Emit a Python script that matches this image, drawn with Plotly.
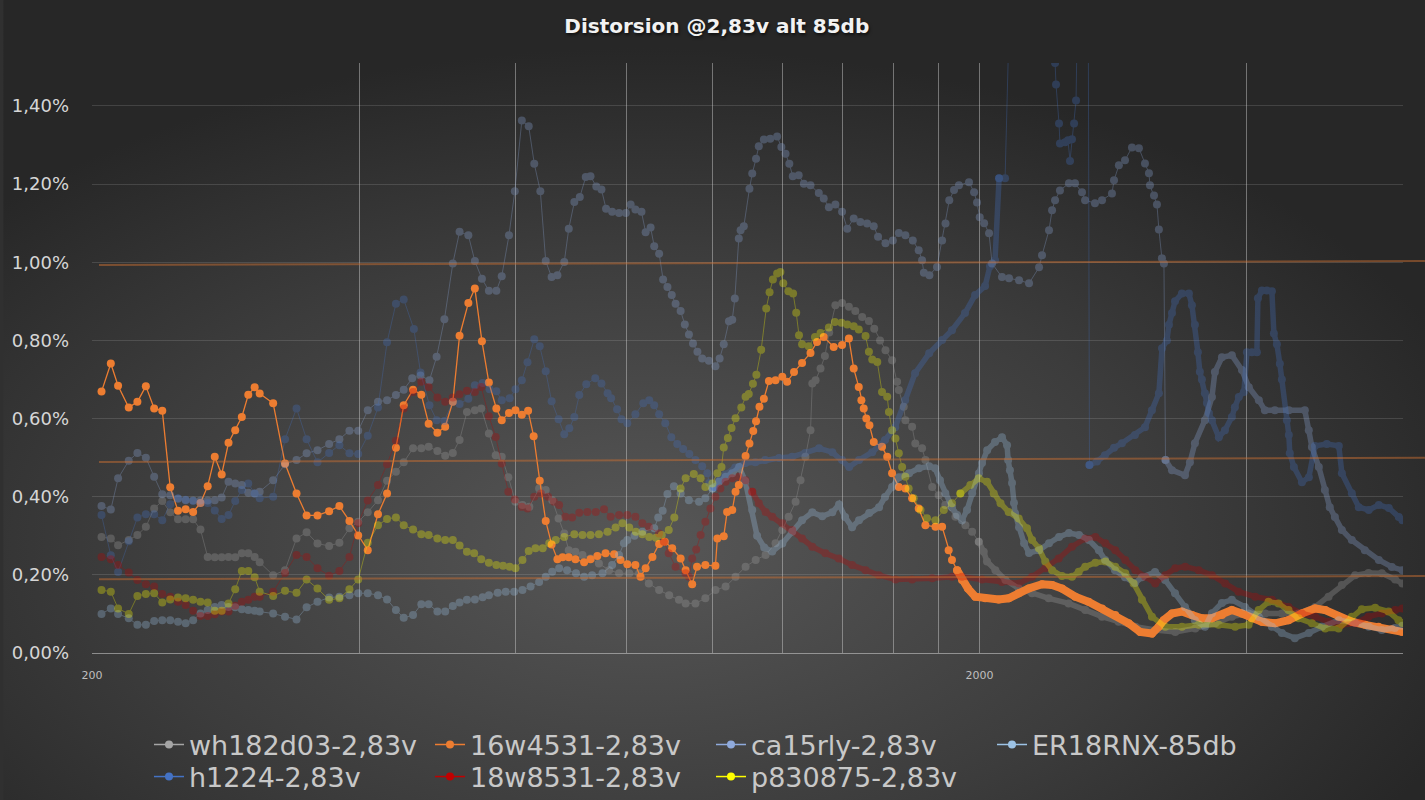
import base64
import math
import plotly.graph_objects as go

# ---------------- data (frequency in Hz, distortion in %) ----------------
wh182_freq = [205, 210, 214, 220, 225, 230, 235, 240, 245, 250,
              255, 260, 265, 270, 275, 280, 285, 290, 295, 300,
              305, 309, 320, 330, 340, 349, 359, 370, 380, 390,
              399, 409, 420, 430, 440, 449, 460, 470, 479, 490,
              500, 510, 519, 529, 540, 549, 560, 570, 579, 589,
              600, 611, 622, 638, 649, 660, 671, 681, 689, 701,
              714, 729, 745, 765, 785, 806, 827, 848, 871, 894,
              917, 933, 957, 982, 1008, 1035, 1062, 1090, 1119, 1148,
              1178, 1199, 1219, 1241, 1257, 1273, 1290, 1296, 1307, 1324,
              1339, 1354, 1376, 1400, 1425, 1449, 1475, 1501, 1522, 1545,
              1567, 1594, 1615, 1622, 1643, 1650, 1679, 1693, 1723, 1738,
              1769, 1799, 1830, 1879, 1928, 1962, 1996, 2022, 2039, 2084,
              2139, 2214, 2292, 2393, 2520, 2631, 2748, 2869, 2997, 3155,
              3323, 3500, 3686, 3849, 4019, 4197, 4382, 4576, 4777, 4946,
              5120, 5299, 5486, 5679, 5879, 5990]
wh182_dist = [0.297, 0.293, 0.276, 0.289, 0.302, 0.323, 0.370, 0.389, 0.360, 0.342,
              0.342, 0.342, 0.316, 0.246, 0.245, 0.245, 0.246, 0.245, 0.255, 0.255,
              0.246, 0.232, 0.199, 0.212, 0.293, 0.309, 0.280, 0.274, 0.282, 0.319,
              0.336, 0.360, 0.391, 0.441, 0.464, 0.488, 0.524, 0.524, 0.528, 0.517,
              0.505, 0.512, 0.545, 0.617, 0.621, 0.626, 0.562, 0.506, 0.502, 0.450,
              0.387, 0.379, 0.374, 0.421, 0.417, 0.391, 0.344, 0.306, 0.263, 0.259,
              0.251, 0.242, 0.229, 0.212, 0.204, 0.204, 0.204, 0.178, 0.161, 0.148,
              0.136, 0.127, 0.127, 0.140, 0.161, 0.170, 0.195, 0.221, 0.238, 0.251,
              0.281, 0.315, 0.349, 0.387, 0.442, 0.502, 0.570, 0.690, 0.698, 0.728,
              0.760, 0.820, 0.890, 0.896, 0.886, 0.875, 0.860, 0.850, 0.830, 0.800,
              0.775, 0.749, 0.694, 0.673, 0.630, 0.596, 0.579, 0.536, 0.524, 0.494,
              0.425, 0.404, 0.379, 0.349, 0.327, 0.310, 0.285, 0.259, 0.234, 0.212,
              0.187, 0.165, 0.153, 0.140, 0.127, 0.110, 0.093, 0.080, 0.067, 0.059,
              0.054, 0.063, 0.076, 0.093, 0.101, 0.101, 0.101, 0.101, 0.118, 0.144,
              0.174, 0.199, 0.205, 0.204, 0.188, 0.178]

w4531_freq = [205, 210, 214, 220, 225, 230, 235, 240, 245, 250,
              255, 260, 265, 270, 275, 280, 285, 290, 295, 300,
              305, 309, 320, 330, 340, 349, 359, 370, 380, 390,
              399, 409, 420, 430, 440, 449, 460, 470, 479, 490,
              500, 510, 519, 531, 540, 550, 560, 571, 579, 590,
              600, 610, 620, 629, 639, 649, 659, 669, 678, 689,
              701, 717, 729, 742, 758, 775, 788, 802, 819, 830,
              841, 856, 871, 884, 901, 921, 933, 949, 961, 982,
              1008, 1013, 1030, 1039, 1053, 1062, 1071, 1090, 1101, 1112,
              1120, 1130, 1143, 1158, 1178, 1199, 1214, 1236, 1262, 1290,
              1312, 1335, 1370, 1400, 1425, 1443, 1462, 1472, 1481, 1491,
              1503, 1520, 1553, 1574, 1594, 1622, 1650, 1679, 1708, 1738,
              1784, 1815, 1846, 1862, 1887, 1911, 1941, 1978, 2030, 2102,
              2157, 2214, 2272, 2352, 2414, 2477, 2564, 2654, 2748, 2844,
              2945, 3034, 3128, 3183, 3225, 3295, 3381, 3470, 3561, 3655,
              3751, 3849, 3951, 4054, 4161, 4307, 4458, 4616, 4777, 4903,
              5076, 5254, 5439, 5630, 5829, 5990]
w4531_dist = [0.669, 0.741, 0.684, 0.628, 0.643, 0.683, 0.626, 0.620, 0.424, 0.364,
              0.368, 0.361, 0.384, 0.427, 0.502, 0.457, 0.538, 0.570, 0.604, 0.661,
              0.680, 0.664, 0.639, 0.485, 0.408, 0.352, 0.352, 0.363, 0.376, 0.338,
              0.301, 0.263, 0.355, 0.408, 0.525, 0.634, 0.674, 0.661, 0.587, 0.564,
              0.579, 0.643, 0.812, 0.896, 0.933, 0.798, 0.692, 0.626, 0.596, 0.614,
              0.621, 0.610, 0.620, 0.555, 0.441, 0.338, 0.278, 0.240, 0.245, 0.245,
              0.240, 0.232, 0.240, 0.248, 0.255, 0.253, 0.238, 0.227, 0.225, 0.195,
              0.217, 0.246, 0.279, 0.285, 0.268, 0.242, 0.212, 0.176, 0.221, 0.225,
              0.223, 0.293, 0.299, 0.361, 0.366, 0.413, 0.430, 0.504, 0.536, 0.568,
              0.593, 0.630, 0.651, 0.696, 0.698, 0.707, 0.694, 0.719, 0.742, 0.768,
              0.796, 0.809, 0.783, 0.788, 0.805, 0.728, 0.681, 0.647, 0.626, 0.600,
              0.583, 0.540, 0.528, 0.502, 0.460, 0.425, 0.421, 0.396, 0.370, 0.327,
              0.323, 0.323, 0.263, 0.238, 0.212, 0.187, 0.165, 0.144, 0.140, 0.137,
              0.140, 0.153, 0.165, 0.176, 0.174, 0.165, 0.144, 0.131, 0.114, 0.097,
              0.076, 0.054, 0.050, 0.067, 0.084, 0.101, 0.106, 0.097, 0.089, 0.089,
              0.097, 0.110, 0.101, 0.089, 0.080, 0.076, 0.084, 0.101, 0.114, 0.110,
              0.093, 0.080, 0.072, 0.067, 0.061, 0.054]

ca15_freq = [205, 210, 214, 220, 225, 230, 235, 240, 245, 250,
             255, 260, 265, 270, 275, 280, 285, 290, 295, 300,
             305, 309, 320, 330, 340, 349, 359, 370, 380, 390,
             399, 409, 420, 430, 440, 449, 459, 469, 480, 489,
             499, 510, 519, 531, 540, 550, 560, 571, 579, 590,
             599, 610, 621, 630, 640, 649, 659, 669, 681, 689,
             699, 709, 720, 729, 740, 750, 759, 771, 785, 799,
             809, 819, 832, 841, 852, 860, 871, 880, 890, 900,
             909, 921, 931, 941, 951, 962, 974, 991, 1008, 1019,
             1030, 1044, 1053, 1060, 1071, 1076, 1085, 1101, 1109, 1120,
             1128, 1143, 1162, 1183, 1196, 1209, 1221, 1232, 1251, 1268,
             1290, 1318, 1335, 1353, 1376, 1400, 1419, 1443, 1468, 1494,
             1520, 1537, 1567, 1597, 1622, 1650, 1682, 1708, 1723, 1731,
             1756, 1791, 1815, 1831, 1849, 1872, 1896, 1946, 1972, 1987,
             2001, 2024, 2050, 2066, 2120, 2159, 2216, 2274, 2334, 2352,
             2395, 2414, 2433, 2464, 2522, 2562, 2609, 2630, 2698, 2748,
             2820, 2835, 2871, 2917, 2970, 3024, 3072, 3104, 3112, 3145,
             3169, 3185, 3210, 3227, 3240, 3295, 3408, 3452, 3497, 3589,
             3655, 3683, 3751, 3849, 3951, 4022, 4128, 4193, 4303, 4462,
             4651, 4699, 4737, 4823, 4899, 4962, 5028, 5120, 5254, 5434,
             5635, 5829, 5990]
ca15_dist = [0.376, 0.367, 0.447, 0.492, 0.512, 0.500, 0.451, 0.406, 0.404, 0.395,
             0.391, 0.390, 0.390, 0.390, 0.391, 0.398, 0.438, 0.434, 0.430, 0.410,
             0.408, 0.413, 0.442, 0.483, 0.494, 0.511, 0.519, 0.535, 0.547, 0.569,
             0.569, 0.621, 0.643, 0.647, 0.660, 0.674, 0.703, 0.710, 0.698, 0.758,
             0.854, 0.997, 1.078, 1.069, 1.003, 0.958, 0.927, 0.927, 0.964, 1.069,
             1.182, 1.363, 1.348, 1.252, 1.182, 1.003, 0.962, 0.967, 1.001, 1.086,
             1.154, 1.167, 1.218, 1.220, 1.194, 1.186, 1.137, 1.129, 1.126, 1.126,
             1.148, 1.135, 1.129, 1.077, 1.089, 1.041, 1.022, 0.956, 0.937, 0.916,
             0.894, 0.875, 0.841, 0.815, 0.792, 0.771, 0.754, 0.748, 0.734, 0.754,
             0.790, 0.849, 0.853, 0.907, 1.061, 1.082, 1.092, 1.188, 1.227, 1.265,
             1.297, 1.314, 1.316, 1.322, 1.295, 1.278, 1.252, 1.220, 1.223, 1.201,
             1.197, 1.177, 1.163, 1.141, 1.148, 1.129, 1.086, 1.112, 1.103, 1.099,
             1.092, 1.065, 1.049, 1.056, 1.075, 1.069, 1.056, 1.031, 1.005, 0.973,
             0.967, 0.988, 1.056, 1.099, 1.159, 1.185, 1.197, 1.205, 1.179, 1.153,
             1.115, 1.100, 1.074, 0.997, 0.962, 0.959, 0.954, 0.946, 0.987, 1.018,
             1.082, 1.133, 1.159, 1.184, 1.202, 1.202, 1.179, 1.159, 1.151, 1.159,
             1.176, 1.210, 1.248, 1.261, 1.294, 1.292, 1.253, 1.228, 1.197, 1.171,
             1.148, 1.084, 1.010, 0.997, 0.494, 0.468, 0.455, 0.488, 0.537, 0.596,
             0.655, 0.719, 0.757, 0.762, 0.724, 0.680, 0.647, 0.621, 0.621, 0.621,
             0.621, 0.570, 0.527, 0.476, 0.417, 0.373, 0.348, 0.315, 0.289, 0.263,
             0.238, 0.220, 0.212]

er18_freq = [205, 210, 214, 220, 225, 230, 235, 240, 245, 250,
             255, 260, 265, 270, 275, 280, 285, 290, 295, 300,
             305, 309, 320, 330, 340, 349, 359, 370, 380, 390,
             399, 409, 420, 430, 440, 449, 460, 470, 479, 490,
             500, 510, 519, 529, 540, 551, 560, 573, 585, 598,
             611, 624, 638, 649, 660, 672, 686, 702, 717, 732,
             752, 771, 785, 795, 802, 817, 834, 860, 869, 879,
             890, 905, 921, 941, 966, 982, 1000, 1017, 1035, 1053,
             1072, 1089, 1109, 1123, 1144, 1168, 1199, 1230, 1262, 1296,
             1330, 1365, 1389, 1411, 1437, 1463, 1502, 1541, 1565, 1594,
             1623, 1666, 1709, 1755, 1782, 1805, 1830, 1862, 1887, 1911,
             1936, 1962, 1997, 2013, 2040, 2082, 2120, 2148, 2154, 2164,
             2176, 2187, 2193, 2216, 2245, 2274, 2334, 2395, 2458, 2522,
             2589, 2656, 2726, 2770, 2842, 2917, 2993, 3048, 3153, 3236,
             3321, 3408, 3497, 3589, 3655, 3751, 3849, 3981, 4128, 4270,
             4382, 4532, 4700, 4861, 5080, 5297, 5490, 5679, 5874, 5990]
er18_dist = [0.100, 0.114, 0.100, 0.089, 0.072, 0.072, 0.082, 0.084, 0.084, 0.080,
             0.076, 0.084, 0.101, 0.110, 0.118, 0.123, 0.118, 0.117, 0.112, 0.110,
             0.108, 0.106, 0.101, 0.093, 0.086, 0.117, 0.131, 0.142, 0.144, 0.148,
             0.153, 0.153, 0.148, 0.137, 0.110, 0.090, 0.097, 0.125, 0.125, 0.106,
             0.106, 0.120, 0.129, 0.136, 0.137, 0.143, 0.148, 0.154, 0.157, 0.157,
             0.161, 0.170, 0.182, 0.195, 0.208, 0.217, 0.212, 0.204, 0.195, 0.199,
             0.204, 0.225, 0.251, 0.281, 0.289, 0.300, 0.310, 0.319, 0.347, 0.364,
             0.407, 0.427, 0.408, 0.391, 0.387, 0.396, 0.421, 0.438, 0.451, 0.460,
             0.476, 0.440, 0.366, 0.300, 0.270, 0.260, 0.280, 0.310, 0.340, 0.360,
             0.350, 0.360, 0.380, 0.348, 0.322, 0.340, 0.358, 0.373, 0.399, 0.425,
             0.450, 0.460, 0.473, 0.478, 0.473, 0.442, 0.409, 0.373, 0.353, 0.340,
             0.366, 0.409, 0.460, 0.486, 0.519, 0.540, 0.552, 0.532, 0.494, 0.468,
             0.435, 0.384, 0.358, 0.322, 0.281, 0.256, 0.263, 0.281, 0.297, 0.307,
             0.302, 0.289, 0.263, 0.238, 0.212, 0.194, 0.179, 0.194, 0.207, 0.187,
             0.153, 0.118, 0.084, 0.067, 0.102, 0.128, 0.136, 0.118, 0.092, 0.067,
             0.051, 0.038, 0.051, 0.067, 0.084, 0.077, 0.067, 0.059, 0.064, 0.070]

h1224_freq = [205, 210, 214, 220, 225, 230, 235, 240, 245, 250,
              255, 260, 265, 270, 275, 280, 285, 290, 295, 300,
              305, 309, 320, 330, 340, 349, 359, 370, 380, 390,
              399, 409, 420, 430, 440, 449, 461, 469, 480, 489,
              499, 510, 519, 531, 540, 551, 561, 571, 579, 591,
              600, 610, 619, 630, 639, 649, 659, 671, 681, 690,
              699, 708, 721, 738, 750, 762, 769, 781, 790, 802,
              819, 836, 849, 860, 871, 885, 899, 913, 927, 942,
              957, 974, 987, 992, 1005, 1020, 1034, 1061, 1089, 1118,
              1147, 1189, 1230, 1272, 1319, 1365, 1400, 1426, 1463, 1514,
              1565, 1607, 1649, 1692, 1755, 1815, 1862, 1926, 1977, 2029,
              2055, 2082, 2104, 2137, 2176, 2292, 2414, 2433, 2439, 2458,
              2464, 2497, 2516, 2529, 2542, 2556, 2569, 2589, 2609, 2650,
              2660, 2712, 2769, 2835, 2894, 2993, 3072, 3128, 3185, 3211,
              3252, 3269, 3295, 3321, 3381, 3443, 3470, 3497, 3524, 3542,
              3561, 3589, 3608, 3626, 3655, 3721, 3780, 3849, 3879, 3919,
              3971, 4002, 4054, 4107, 4118, 4161, 4215, 4270, 4292, 4326,
              4359, 4382, 4439, 4462, 4473, 4521, 4616, 4700, 4774, 4924,
              5080, 5120, 5254, 5350, 5490, 5635, 5783, 5935, 5990]
h1224_dist = [0.353, 0.250, 0.207, 0.286, 0.347, 0.355, 0.355, 0.340, 0.381, 0.396,
              0.392, 0.389, 0.384, 0.384, 0.365, 0.343, 0.353, 0.389, 0.417, 0.434,
              0.408, 0.396, 0.400, 0.547, 0.626, 0.547, 0.488, 0.512, 0.532, 0.511,
              0.509, 0.556, 0.628, 0.795, 0.894, 0.905, 0.829, 0.718, 0.634, 0.596,
              0.594, 0.643, 0.637, 0.651, 0.685, 0.691, 0.675, 0.670, 0.647, 0.652,
              0.675, 0.698, 0.744, 0.803, 0.785, 0.721, 0.644, 0.598, 0.560, 0.575,
              0.604, 0.660, 0.688, 0.703, 0.690, 0.665, 0.652, 0.624, 0.598, 0.588,
              0.611, 0.639, 0.647, 0.634, 0.611, 0.588, 0.552, 0.535, 0.522, 0.509,
              0.494, 0.478, 0.460, 0.435, 0.425, 0.442, 0.457, 0.475, 0.486, 0.488,
              0.494, 0.499, 0.502, 0.512, 0.524, 0.514, 0.494, 0.476, 0.494, 0.514,
              0.545, 0.578, 0.647, 0.716, 0.767, 0.801, 0.826, 0.870, 0.916, 0.939,
              0.990, 1.005, 1.215, 1.215, 1.900, 1.900, 1.900, 1.510, 1.455, 1.355,
              1.304, 1.307, 1.312, 1.259, 1.315, 1.355, 1.414, 1.900, 1.900, 1.900,
              0.481, 0.490, 0.506, 0.525, 0.537, 0.558, 0.578, 0.621, 0.665, 0.780,
              0.800, 0.840, 0.870, 0.900, 0.920, 0.920, 0.890, 0.840, 0.770, 0.720,
              0.700, 0.665, 0.640, 0.614, 0.596, 0.552, 0.570, 0.604, 0.629, 0.655,
              0.668, 0.770, 0.770, 0.770, 0.908, 0.928, 0.928, 0.926, 0.818, 0.790,
              0.740, 0.700, 0.596, 0.558, 0.511, 0.476, 0.437, 0.450, 0.530, 0.535,
              0.530, 0.460, 0.409, 0.373, 0.366, 0.379, 0.371, 0.348, 0.340]

w8531_freq = [205, 210, 214, 220, 225, 230, 235, 240, 245, 250,
              255, 260, 265, 270, 275, 280, 285, 290, 295, 300,
              305, 309, 320, 330, 340, 349, 359, 370, 380, 390,
              399, 409, 420, 430, 440, 449, 460, 470, 479, 490,
              500, 510, 519, 529, 540, 549, 560, 570, 579, 589,
              599, 610, 619, 630, 641, 653, 663, 672, 683, 695,
              708, 723, 739, 755, 768, 785, 802, 819, 834, 848,
              871, 882, 893, 909, 933, 941, 949, 959, 970, 982,
              995, 1008, 1021, 1035, 1053, 1071, 1090, 1109, 1128, 1148,
              1168, 1199, 1230, 1262, 1296, 1341, 1388, 1437, 1488, 1540,
              1608, 1679, 1769, 1862, 1911, 2013, 2120, 2214, 2292, 2372,
              2456, 2542, 2631, 2701, 2772, 2844, 2919, 2996, 3074, 3155,
              3238, 3323, 3410, 3531, 3655, 3783, 3916, 4089, 4270, 4458,
              4616, 4777, 4946, 5120, 5299, 5486, 5679, 5879, 5990]
w8531_dist = [0.246, 0.240, 0.225, 0.206, 0.187, 0.176, 0.170, 0.151, 0.144, 0.131,
              0.123, 0.108, 0.095, 0.095, 0.099, 0.106, 0.106, 0.121, 0.131, 0.136,
              0.144, 0.144, 0.157, 0.205, 0.251, 0.246, 0.217, 0.198, 0.210, 0.246,
              0.332, 0.390, 0.430, 0.483, 0.543, 0.626, 0.668, 0.694, 0.681, 0.654,
              0.643, 0.654, 0.662, 0.671, 0.668, 0.681, 0.606, 0.553, 0.485, 0.413,
              0.393, 0.374, 0.370, 0.400, 0.408, 0.400, 0.387, 0.379, 0.349, 0.347,
              0.359, 0.361, 0.361, 0.368, 0.349, 0.353, 0.353, 0.349, 0.332, 0.323,
              0.306, 0.285, 0.255, 0.221, 0.204, 0.195, 0.242, 0.265, 0.302, 0.336,
              0.370, 0.400, 0.421, 0.438, 0.447, 0.451, 0.442, 0.413, 0.383, 0.361,
              0.349, 0.332, 0.315, 0.293, 0.272, 0.255, 0.242, 0.225, 0.212, 0.199,
              0.188, 0.188, 0.191, 0.195, 0.195, 0.188, 0.182, 0.178, 0.195, 0.217,
              0.242, 0.272, 0.293, 0.297, 0.281, 0.263, 0.238, 0.212, 0.195, 0.178,
              0.199, 0.217, 0.221, 0.212, 0.199, 0.178, 0.157, 0.144, 0.136, 0.118,
              0.101, 0.093, 0.080, 0.072, 0.076, 0.093, 0.101, 0.110, 0.114]

p8308_freq = [205, 210, 214, 220, 225, 230, 235, 240, 245, 250,
              255, 260, 265, 270, 275, 280, 285, 290, 295, 300,
              305, 309, 320, 330, 340, 349, 359, 370, 380, 390,
              399, 409, 420, 430, 440, 449, 460, 470, 479, 490,
              500, 510, 519, 529, 539, 549, 560, 571, 581, 591,
              600, 611, 621, 632, 644, 655, 666, 681, 699, 714,
              729, 745, 762, 778, 792, 806, 820, 834, 849, 864,
              877, 893, 906, 921, 933, 953, 970, 982, 1000, 1013,
              1024, 1030, 1041, 1051, 1062, 1078, 1090, 1099, 1111, 1121,
              1135, 1150, 1160, 1170, 1183, 1193, 1202, 1218, 1233, 1243,
              1252, 1262, 1284, 1305, 1324, 1353, 1374, 1398, 1419, 1443,
              1462, 1488, 1501, 1514, 1534, 1553, 1574, 1581, 1594, 1608,
              1622, 1636, 1650, 1664, 1686, 1716, 1745, 1784, 1823, 1862,
              1903, 1953, 1996, 2039, 2075, 2112, 2157, 2214, 2262, 2292,
              2333, 2372, 2414, 2477, 2542, 2587, 2631, 2701, 2772, 2844,
              2919, 2983, 3048, 3128, 3238, 3381, 3531, 3719, 3882, 4019,
              4126, 4233, 4344, 4458, 4576, 4737, 4903, 5076, 5254, 5392,
              5582, 5778, 5930, 5990]
p8308_dist = [0.161, 0.157, 0.114, 0.100, 0.146, 0.151, 0.153, 0.129, 0.137, 0.142,
              0.140, 0.136, 0.131, 0.129, 0.108, 0.108, 0.127, 0.163, 0.210, 0.210,
              0.194, 0.157, 0.146, 0.159, 0.154, 0.188, 0.165, 0.136, 0.140, 0.163,
              0.188, 0.282, 0.327, 0.343, 0.347, 0.327, 0.316, 0.304, 0.302, 0.293,
              0.289, 0.289, 0.275, 0.259, 0.255, 0.240, 0.231, 0.225, 0.223, 0.221,
              0.217, 0.238, 0.261, 0.268, 0.268, 0.281, 0.289, 0.297, 0.304, 0.302,
              0.302, 0.304, 0.310, 0.321, 0.332, 0.321, 0.310, 0.304, 0.297, 0.295,
              0.302, 0.315, 0.347, 0.421, 0.447, 0.458, 0.447, 0.425, 0.434, 0.460,
              0.476, 0.526, 0.550, 0.576, 0.601, 0.628, 0.656, 0.663, 0.689, 0.712,
              0.776, 0.882, 0.923, 0.956, 0.971, 0.975, 0.946, 0.926, 0.920, 0.871,
              0.813, 0.790, 0.785, 0.809, 0.819, 0.833, 0.847, 0.845, 0.841, 0.836,
              0.828, 0.811, 0.771, 0.751, 0.745, 0.668, 0.656, 0.617, 0.570, 0.549,
              0.511, 0.476, 0.451, 0.421, 0.396, 0.366, 0.345, 0.340, 0.366, 0.383,
              0.408, 0.430, 0.447, 0.438, 0.408, 0.383, 0.361, 0.344, 0.319, 0.289,
              0.268, 0.234, 0.212, 0.197, 0.195, 0.208, 0.221, 0.231, 0.234, 0.221,
              0.204, 0.178, 0.136, 0.093, 0.067, 0.067, 0.072, 0.072, 0.067, 0.072,
              0.110, 0.131, 0.127, 0.110, 0.089, 0.076, 0.063, 0.063, 0.093, 0.112,
              0.116, 0.106, 0.084, 0.077]

# reference levels drawn across the chart (start -> end)
ref_start = [0.993, 0.489, 0.189]
ref_end = [1.003, 0.4995, 0.197]

grid_freqs = [200, 400, 600, 800, 1000, 1200, 1400, 1600, 1800, 2000, 4000, 6000]
grid_labels = ["200", "", "", "", "", "", "", "", "", "2000", "", ""]
y_ticks = [0.0, 0.2, 0.4, 0.6, 0.8, 1.0, 1.2, 1.4]
y_labels = [f"{t:.2f}".replace(".", ",") + "%" for t in y_ticks]

# name, freq, dist, colour, opacity, frequency ranges drawn as a dense band, legend row
series = [
    ("wh182d03-2,83v", wh182_freq, wh182_dist, "#A5A5A5", 0.30, [(1980, 7000)], "legend"),
    ("16w4531-2,83v", w4531_freq, w4531_dist, "#ED7D31", 1.0, [(1880, 7000)], "legend"),
    ("ca15rly-2,83v", ca15_freq, ca15_dist, "#8FAADC", 0.30, [(3240, 7000)], "legend"),
    ("ER18RNX-85db", er18_freq, er18_dist, "#9DC3E6", 0.30, [(1000, 7000)], "legend"),
    ("h1224-2,83v", h1224_freq, h1224_dist, "#4472C4", 0.30, [(1000, 2090), (2660, 7000)], "legend2"),
    ("18w8531-2,83v", w8531_freq, w8531_dist, "#C00000", 0.30, [(1100, 7000)], "legend2"),
    ("p830875-2,83v", p8308_freq, p8308_dist, "#FFFF00", 0.30, [(1880, 7000)], "legend2"),
]


def segments(f, v, bands):
    flags = [any(a <= x <= b for a, b in bands) for x in f]
    out = []
    s = 0
    n = len(f)
    for i in range(1, n + 1):
        if i == n or flags[i] != flags[s]:
            e = min(i + 1, n)
            out.append((f[s:e], v[s:e], flags[s]))
            s = i
    return out


fig = go.Figure()

for name, f, v, col, op, bands, leg in series:
    assert len(f) == len(v), name
    for sf, sv, dense in segments(f, v, bands):
        if dense:
            lw = 8 if op == 1.0 else 5.5
        else:
            lw = 1.3 if op == 1.0 else 1
        fig.add_trace(go.Scatter(
            x=sf, y=sv, mode="lines+markers",
            line=dict(color=col, width=lw),
            marker=dict(color=col, size=8),
            opacity=op, showlegend=False, hoverinfo="skip"))

# legend entries (full colour, as in the original)
for name, f, v, col, op, bands, leg in series:
    fig.add_trace(go.Scatter(
        x=[None], y=[None], mode="lines+markers", name=name,
        line=dict(color=col, width=1.5), marker=dict(color=col, size=8),
        legend=leg))

# background gradient
svg = ("<svg xmlns='http://www.w3.org/2000/svg' width='1425' height='800' preserveAspectRatio='none'>"
       "<defs><radialGradient id='g' cx='0.45' cy='0.68' r='0.62'>"
       "<stop offset='0' stop-color='#575757'/><stop offset='0.6' stop-color='#3c3c3c'/>"
       "<stop offset='1' stop-color='#272727'/></radialGradient></defs>"
       "<rect width='1425' height='800' fill='url(#g)'/></svg>")
bg = "data:image/svg+xml;base64," + base64.b64encode(svg.encode()).decode()

L, R, T, B = 89, 22, 63, 147
W, H = 1425, 800
pw, ph = W - L - R, H - T - B

shapes = []
for a, b in zip(ref_start, ref_end):
    shapes.append(dict(type="line", xref="paper", yref="y",
                       x0=7 / pw, x1=(W - L) / pw, y0=a, y1=b,
                       line=dict(color="rgba(200,110,50,0.5)", width=2), layer="above"))

legend_font = dict(family="DejaVu Sans", size=27, color="#C8C8C8")
leg_common = dict(orientation="h", xref="container", yref="container",
                  xanchor="left", yanchor="middle", font=legend_font,
                  entrywidth=236, bgcolor="rgba(0,0,0,0)", itemwidth=30)

fig.update_layout(
    width=W, height=H,
    margin=dict(l=L, r=R, t=T, b=B),
    paper_bgcolor="#303030",
    plot_bgcolor="rgba(0,0,0,0)",
    images=[dict(source=bg, xref="paper", yref="paper", x=-L / pw, y=1 + T / ph,
                 sizex=W / pw, sizey=H / ph, sizing="stretch", xanchor="left",
                 yanchor="top", layer="below")],
    title=dict(text="Distorsion @2,83v alt 85db", x=0.503, xanchor="center",
               y=1 - 26 / H, yanchor="middle",
               font=dict(family="DejaVu Sans", size=20, color="#F2F2F2", weight="bold",
                         shadow="1px 2px 3px rgba(0,0,0,0.6)")),
    shapes=shapes,
    legend=dict(x=149 / W, y=1 - 745 / H, **leg_common),
    legend2=dict(x=149 / W, y=1 - 777 / H, **leg_common),
)

fig.update_xaxes(
    type="log", range=[math.log10(200), math.log10(6000)],
    tickvals=grid_freqs, ticktext=grid_labels,
    showgrid=True, gridcolor="rgba(210,210,210,0.45)", gridwidth=1,
    showline=True, linecolor="rgba(210,210,210,0.55)", linewidth=1,
    zeroline=False, ticks="",
    tickfont=dict(family="DejaVu Sans", size=11, color="#BFBFBF"),
    ticklabelstandoff=12,
)
fig.update_yaxes(
    range=[0, 1.51], tickvals=y_ticks, ticktext=y_labels,
    showgrid=True, gridcolor="rgba(210,210,210,0.17)", gridwidth=1,
    zeroline=False, showline=False, ticks="",
    tickfont=dict(family="DejaVu Sans", size=18, color="#D6D6D6"),
    ticklabelstandoff=22,
)

fig.write_html("out.html", config={"displayModeBar": False},
               post_script="document.body.style.margin='0';document.body.style.overflow='hidden';")
